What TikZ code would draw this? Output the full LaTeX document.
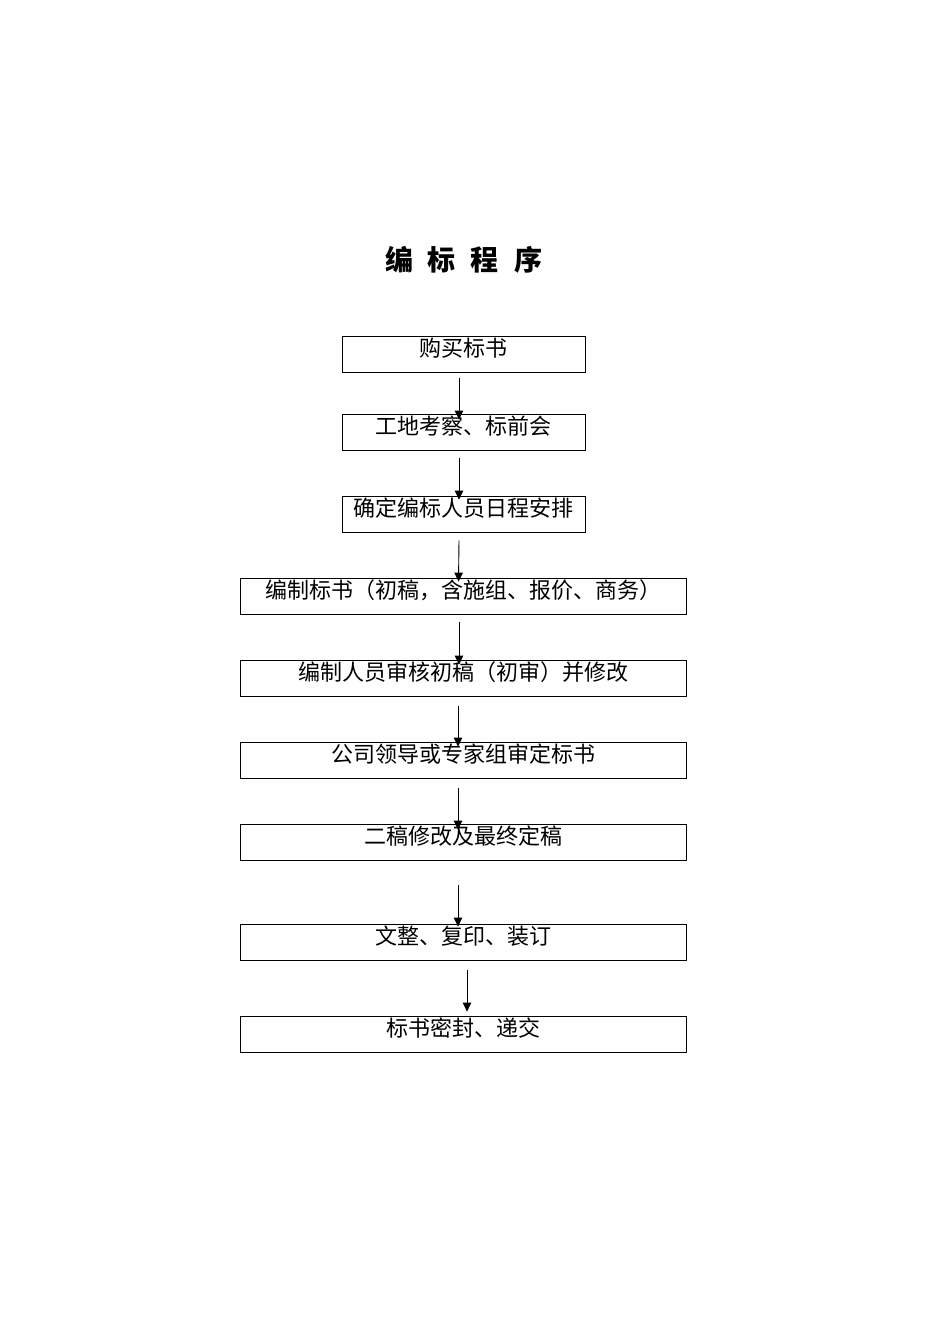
\documentclass[tikz,border=0pt]{standalone}
\usepackage{fontspec}
\setmainfont{Noto Sans CJK SC}
\usetikzlibrary{arrows.meta}

\begin{document}
\begin{tikzpicture}[x = 1pt, y = -1pt,
		stepbox/.style = {draw, line width = 0.8pt, inner sep = 0pt, minimum height = 36pt,
			text height = 16pt, text depth = 11pt, font = \fontsize{22}{22}\selectfont},
		narrowbox/.style = {stepbox, minimum width = 243pt},
		widebox/.style = {stepbox, minimum width = 446pt},
		flow/.style = {line width = 0.9pt, -{Triangle[length = 9pt, width = 8.5pt]}}]
	\useasboundingbox (0,0) rectangle (950,1344);
	\begin{scope}
		\node (title) at (463.5,260) {\fontsize{28}{28}\selectfont\bfseries 编\hspace{15pt}标\hspace{15pt}程\hspace{15pt}序};
	\end{scope}
	\begin{scope}
		\node [narrowbox] (buy) at (463.5,354) {购买标书};
		\node [narrowbox] (visit) at (463.5,432) {工地考察、标前会};
		\node [narrowbox] (plan) at (463.5,514) {确定编标人员日程安排};
		\node [widebox] (draft) at (463,596) {编制标书（初稿，含施组、报价、商务）};
		\node [widebox] (check) at (463,678) {编制人员审核初稿（初审）并修改};
		\node [widebox] (review) at (463,760) {公司领导或专家组审定标书};
		\node [widebox] (final) at (463,842) {二稿修改及最终定稿};
		\node [widebox] (print) at (463,942) {文整、复印、装订};
		\node [widebox] (seal) at (463,1034) {标书密封、递交};
	\end{scope}
	\begin{scope}[flow]
		\draw ([xshift = -4.5pt, yshift = -6pt]buy.south) -- ([xshift = -4.5pt, yshift = -6pt]visit.north);
		\draw ([xshift = -4.5pt, yshift = -8pt]visit.south) -- ([xshift = -4.5pt, yshift = -4pt]plan.north);
		\draw ([xshift = -4.5pt, yshift = -8pt]plan.south) -- ([xshift = -4.5pt, yshift = -4pt]draft.north);
		\draw ([xshift = -4pt, yshift = -8pt]draft.south) -- ([xshift = -4pt, yshift = -5pt]check.north);
		\draw ([xshift = -5pt, yshift = -10pt]check.south) -- ([xshift = -5pt, yshift = -5pt]review.north);
		\draw ([xshift = -5pt, yshift = -10pt]review.south) -- ([xshift = -5pt, yshift = -6pt]final.north);
		\draw ([xshift = -5pt, yshift = -25pt]final.south) -- ([xshift = -5pt, yshift = -3pt]print.north);
		\draw ([xshift = 4pt, yshift = -10pt]print.south) -- ([xshift = 4pt, yshift = 4pt]seal.north);
	\end{scope}
\end{tikzpicture}
\end{document}
